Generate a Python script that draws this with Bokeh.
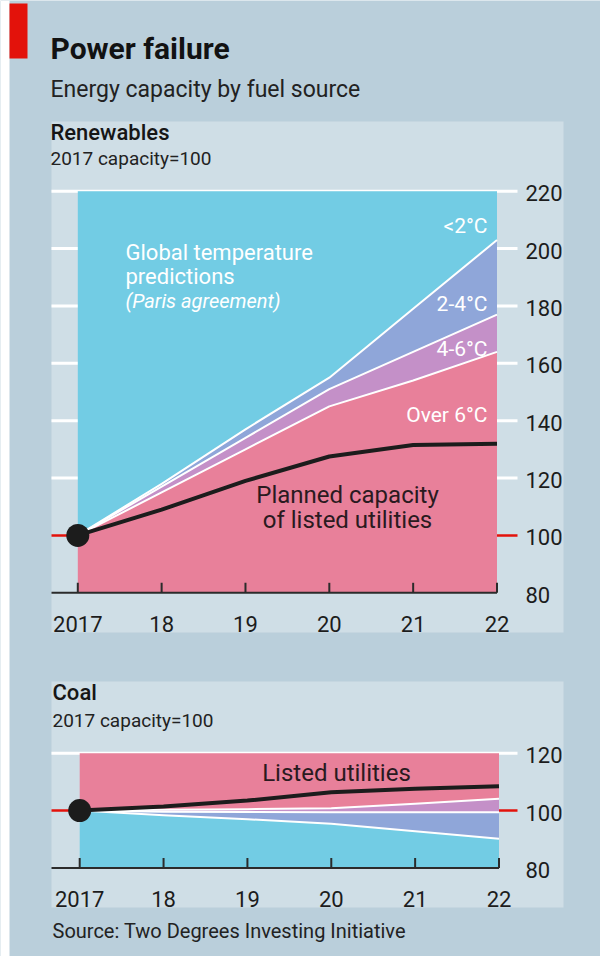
from bokeh.plotting import figure
from bokeh.models import Range1d
from bokeh.core.properties import value
from bokeh.embed import file_html
from bokeh.resources import INLINE

# ---------------- data ----------------
years = [2017, 2018, 2019, 2020, 2021, 2022]
year_labels = ["2017", "18", "19", "20", "21", "22"]

# Renewables, 2017 capacity = 100
ren_ticks = [80, 100, 120, 140, 160, 180, 200, 220]
ren_lt2 = [100, 118, 137, 155, 179, 203]      # boundary <2°C / 2-4°C
ren_2to4 = [100, 117, 134, 151, 164, 177]     # boundary 2-4°C / 4-6°C
ren_4to6 = [100, 115, 130, 145, 154, 164]     # boundary 4-6°C / over 6°C
ren_planned = [100, 109, 119, 127.5, 131.5, 132]

# Coal, 2017 capacity = 100
coal_ticks = [80, 100, 120]
coal_lt2 = [100, 98.4, 97.0, 95.4, 92.8, 90.2]     # boundary <2°C / 2-4°C
coal_2to4 = [100, 99.6, 99.5, 99.4, 99.4, 99.4]    # boundary 2-4°C / 4-6°C
coal_4to6 = [100, 100.3, 100.5, 100.8, 102.4, 104.1]  # boundary 4-6°C / over 6°C
coal_planned = [100, 101.4, 103.5, 106.4, 107.6, 108.5]

# ---------------- style ----------------
BG = "#bacfdb"
PANEL = "#cfdee6"
CYAN = "#72cce4"
BLUE = "#8fa6d9"
PURPLE = "#c490c8"
PINK = "#e8809a"
RED = "#e3120b"
DARK = "#1c1c1c"
ANN = "#2a1a20"
FONT = value("Roboto")
FONT_MED = value("Roboto Medium")

W, H = 600, 956


def xrange_from(px0, v0, px1, v1):
    k = (px1 - px0) / (v1 - v0)
    start = v0 - px0 / k
    return Range1d(start=start, end=start + W / k), k


def yrange_from(py0, v0, py1, v1):
    k = (py1 - py0) / (v0 - v1)
    end = v0 + py0 / k
    return Range1d(start=end - H / k, end=end), k


p = figure(width=W, height=H, x_range=Range1d(0, W), y_range=Range1d(H, 0),
           x_axis_type=None, y_axis_type=None,
           output_backend="svg", toolbar_location=None, min_border=0,
           outline_line_color=None, background_fill_color=BG, border_fill_color=BG)
p.grid.visible = False

rx, rkx = xrange_from(77.3, 2017, 496.5, 2022)
ry, rky = yrange_from(190.7, 220, 592.3, 80)
cx, ckx = xrange_from(79.2, 2017, 498.5, 2022)
cy, cky = yrange_from(752.7, 120, 867.5, 80)
p.extra_x_ranges = {"rx": rx, "cx": cx}
p.extra_y_ranges = {"ry": ry, "cy": cy}


def label(x, y, s, size, color, align="left", style="normal", font=FONT):
    p.text(x=[x], y=[y], text=[s], text_font=font, text_font_size=size,
           text_color=color, text_align=align, text_baseline="middle",
           text_font_style=style)


# page edge and header
p.quad(left=[0], right=[9], top=[0], bottom=[H], color="white", line_color=None)
p.quad(left=[9], right=[27], top=[3], bottom=[58], color=RED, line_color=None)
label(50, 48, "Power failure", "30px", "#121212", style="bold")
label(50, 89, "Energy capacity by fuel source", "23px", "#222222")

# panels
p.quad(left=[51], right=[563], top=[121], bottom=[632], color=PANEL, line_color=None)
p.quad(left=[51], right=[563], top=[681], bottom=[907], color=PANEL, line_color=None)


def chart(xname, yname, ky, ticks, b_lt2, b_2to4, b_4to6, planned, x_left_px, x_right_px,
          label_y_px, hot_below):
    xr_ = p.extra_x_ranges[xname]
    scale = (xr_.end - xr_.start) / W
    xl = xr_.start + x_left_px * scale
    xrr = xr_.start + x_right_px * scale
    ymin, ymax = ticks[0], ticks[-1]
    kw = dict(x_range_name=xname, y_range_name=yname)
    grid = [t for t in ticks if t not in (ymin, 100)]
    n = len(grid)
    p.segment(x0=[xl] * n, x1=[xrr] * n, y0=grid, y1=grid, line_color="white", line_width=3, **kw)
    p.segment(x0=[xl], x1=[xrr], y0=[100], y1=[100], line_color=RED, line_width=2.5, **kw)
    m = len(years)
    if hot_below:
        p.varea(x=years, y1=[ymin] * m, y2=b_4to6, fill_color=PINK, **kw)
        p.varea(x=years, y1=b_4to6, y2=b_2to4, fill_color=PURPLE, **kw)
        p.varea(x=years, y1=b_2to4, y2=b_lt2, fill_color=BLUE, **kw)
        p.varea(x=years, y1=b_lt2, y2=[ymax] * m, fill_color=CYAN, **kw)
    else:
        p.varea(x=years, y1=[ymin] * m, y2=b_lt2, fill_color=CYAN, **kw)
        p.varea(x=years, y1=b_lt2, y2=b_2to4, fill_color=BLUE, **kw)
        p.varea(x=years, y1=b_2to4, y2=b_4to6, fill_color=PURPLE, **kw)
        p.varea(x=years, y1=b_4to6, y2=[ymax] * m, fill_color=PINK, **kw)
    for b in (b_lt2, b_2to4, b_4to6):
        p.line(x=years, y=b, line_color="white", line_width=2, line_join="round", **kw)
    # x axis
    p.segment(x0=[xl], x1=[years[-1]], y0=[ymin], y1=[ymin], line_color="#2b2b2b",
              line_width=2, **kw)
    p.segment(x0=years, x1=years, y0=[ymin] * m, y1=[ymin + 10 / ky] * m,
              line_color="#2b2b2b", line_width=2, **kw)
    # planned capacity of listed utilities
    p.line(x=years, y=planned, line_color=DARK, line_width=4, line_join="round", **kw)
    p.scatter(x=[years[0]], y=[planned[0]], size=23, fill_color=DARK, line_color=None, **kw)
    # tick labels
    p.text(x=[525] * len(ticks), y=ticks, text=[str(t) for t in ticks], text_font=FONT,
           text_font_size="22px", text_color=DARK, text_align="left", text_baseline="middle",
           y_offset=2, y_range_name=yname)
    p.text(x=years, y=[label_y_px] * m, text=year_labels, text_font=FONT,
           text_font_size="22px", text_color=DARK, text_align="center",
           text_baseline="middle", x_range_name=xname)


chart("rx", "ry", rky, ren_ticks, ren_lt2, ren_2to4, ren_4to6, ren_planned, 51, 517, 623, True)
chart("cx", "cy", cky, coal_ticks, coal_lt2, coal_2to4, coal_4to6, coal_planned, 51, 517, 898,
      False)

# renewables texts
label(50, 132, "Renewables", "22px", "#161616", font=FONT_MED)
label(50, 158, "2017 capacity=100", "19px", "#222222")
label(125, 252, "Global temperature", "22px", "white")
label(125, 276, "predictions", "22px", "white")
label(125, 300, "(Paris agreement)", "20px", "white", style="italic")
label(487, 225, "<2°C", "21px", "white", align="right")
label(487, 303, "2-4°C", "21px", "white", align="right")
label(487, 348, "4-6°C", "21px", "white", align="right")
label(487, 414, "Over 6°C", "21px", "white", align="right")
label(347, 494, "Planned capacity", "24px", ANN, align="center")
label(347, 519, "of listed utilities", "24px", ANN, align="center")

# coal texts
label(52, 692, "Coal", "22px", "#161616", font=FONT_MED)
label(52, 720, "2017 capacity=100", "19px", "#222222")
label(336, 772, "Listed utilities", "24px", ANN, align="center")

# source
label(52, 930, "Source: Two Degrees Investing Initiative", "20px", "#222222")

open("out.html", "w").write(file_html(p, INLINE))
